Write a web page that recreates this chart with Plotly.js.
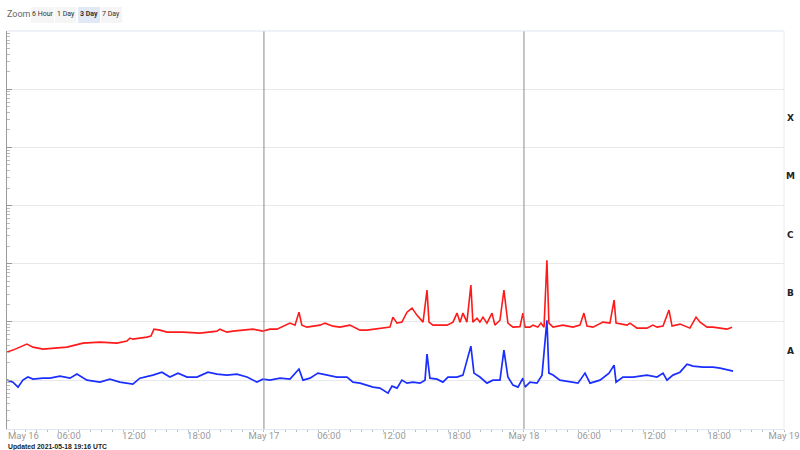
<!DOCTYPE html>
<html><head><meta charset="utf-8">
<script src="https://cdn.plot.ly/plotly-3.0.1.min.js"></script>
<style>html,body{margin:0;padding:0;background:#fff}#chart{width:800px;height:450px}</style>
</head><body><div id="chart"></div>
<script>
// minutes since 2021-05-16 00:00 UTC
const redMinutes = [17,50,127,161,216,349,438,532,626,681,698,714,792,814,831,864,903,991,1086,1180,1196,1235,1268,1379,1434,1473,1512,1584,1612,1634,1650,1678,1750,1778,1822,1861,1916,1972,2010,2082,2138,2154,2177,2204,2232,2260,2287,2321,2343,2354,2376,2415,2454,2487,2509,2526,2542,2564,2586,2597,2620,2636,2653,2675,2703,2719,2747,2769,2791,2819,2858,2874,2886,2913,2930,2957,2974,2991,3007,3018,3041,3096,3151,3190,3212,3229,3262,3318,3356,3379,3390,3451,3467,3506,3561,3594,3617,3650,3683,3700,3744,3799,3833,3855,3894,3927,3966,4004,4032];
const redFlux = [3.03e-8,3.28e-8,4.16e-8,3.69e-8,3.41e-8,3.69e-8,4.32e-8,4.50e-8,4.32e-8,4.68e-8,5.27e-8,5.06e-8,5.48e-8,5.70e-8,7.52e-8,7.23e-8,6.68e-8,6.68e-8,6.42e-8,6.95e-8,7.52e-8,6.68e-8,6.95e-8,7.52e-8,6.95e-8,7.52e-8,7.52e-8,9.54e-8,8.81e-8,1.47e-7,8.81e-8,8.14e-8,8.81e-8,9.54e-8,8.47e-8,8.14e-8,8.81e-8,7.23e-8,7.23e-8,7.83e-8,8.14e-8,1.21e-7,9.54e-8,9.92e-8,1.47e-7,1.73e-7,1.31e-7,9.92e-8,3.52e-7,9.92e-8,8.81e-8,8.81e-8,8.81e-8,9.92e-8,1.42e-7,9.92e-8,1.42e-7,9.92e-8,4.29e-7,9.92e-8,1.16e-7,9.92e-8,1.21e-7,9.54e-8,1.42e-7,8.81e-8,1.07e-7,3.52e-7,9.54e-8,8.14e-8,8.30e-8,1.42e-7,8.14e-8,8.14e-8,8.81e-8,8.14e-8,9.54e-8,8.14e-8,1.15e-6,9.54e-8,8.14e-8,8.81e-8,8.14e-8,8.81e-8,1.42e-7,8.47e-8,8.14e-8,9.92e-8,9.54e-8,2.37e-7,9.54e-8,8.81e-8,9.54e-8,7.83e-8,7.83e-8,8.81e-8,8.14e-8,8.47e-8,1.60e-7,8.47e-8,9.17e-8,7.83e-8,1.21e-7,9.92e-8,8.14e-8,8.14e-8,7.83e-8,7.52e-8,8.14e-8];

const blueMinutes = [17,50,78,105,133,161,216,255,310,366,404,460,532,587,642,714,753,825,875,919,964,1014,1069,1130,1180,1235,1290,1346,1401,1434,1473,1529,1584,1634,1656,1695,1739,1789,1844,1900,1933,1972,2010,2044,2082,2127,2149,2177,2204,2232,2265,2304,2332,2343,2359,2398,2431,2459,2509,2542,2586,2603,2636,2675,2708,2747,2769,2791,2819,2847,2874,2886,2913,2952,2980,3007,3018,3041,3079,3135,3179,3218,3246,3301,3351,3379,3390,3428,3484,3561,3617,3650,3672,3705,3744,3783,3816,3871,3927,3966,4010,4038];
const blueFlux = [1.0e-8,9.24e-9,7.58e-9,1.0e-8,1.13e-8,1.04e-8,1.08e-8,1.08e-8,1.17e-8,1.08e-8,1.27e-8,1.0e-8,9.24e-9,1.04e-8,9.24e-9,8.54e-9,1.08e-8,1.22e-8,1.37e-8,1.13e-8,1.32e-8,1.13e-8,1.13e-8,1.37e-8,1.27e-8,1.22e-8,1.27e-8,1.13e-8,9.24e-9,1.04e-8,1.0e-8,1.08e-8,1.04e-8,1.55e-8,1.0e-8,1.08e-8,1.32e-8,1.22e-8,1.13e-8,1.13e-8,9.24e-9,8.88e-9,8.20e-9,7.58e-9,7.29e-9,5.98e-9,7.89e-9,7.29e-9,1.0e-8,8.88e-9,9.24e-9,8.88e-9,1.0e-8,2.80e-8,1.08e-8,1.04e-8,9.24e-9,1.13e-8,1.13e-8,1.22e-8,3.84e-8,1.32e-8,1.13e-8,8.88e-9,1.0e-8,1.0e-8,3.28e-8,1.13e-8,8.20e-9,7.58e-9,1.08e-8,7.58e-9,9.24e-9,8.88e-9,1.22e-8,1.07e-7,1.32e-8,1.22e-8,1.0e-8,9.24e-9,8.88e-9,1.32e-8,8.88e-9,1.0e-8,1.32e-8,1.81e-8,9.24e-9,1.13e-8,1.13e-8,1.22e-8,1.13e-8,1.32e-8,1.0e-8,1.22e-8,1.37e-8,1.88e-8,1.74e-8,1.67e-8,1.67e-8,1.61e-8,1.48e-8,1.43e-8];

const tickTimes = ["2021-05-16 06:00","2021-05-16 12:00","2021-05-16 18:00","2021-05-17 00:00","2021-05-17 06:00","2021-05-17 12:00","2021-05-17 18:00","2021-05-18 00:00","2021-05-18 06:00","2021-05-18 12:00","2021-05-18 18:00","2021-05-19 00:00"];
const tickLabels = ["06:00","12:00","18:00","May 17","06:00","12:00","18:00","May 18","06:00","12:00","18:00","May 19"];
const dayLines = ["2021-05-17 00:00","2021-05-18 00:00"];
const classLabels = ["A","B","C","M","X"];
const classMidLog = [-7.5,-6.5,-5.5,-4.5,-3.5];
const zoomButtons = ["6 Hour","1 Day","3 Day","7 Day"];

const t0 = Date.UTC(2021,4,16,0,0);
function toTime(m){ return new Date(t0 + m*60000).toISOString().replace('T',' ').slice(0,19); }

const L = 7, R = 16, T = 31, B = 21, W = 800, H = 450;
const pw = W-L-R, ph = H-T-B;
const px = x => (x-L)/pw;
const py = y => (H-B-y)/ph;

const traces = [
  {x: redMinutes.map(toTime), y: redFlux, type:'scatter', mode:'lines', line:{color:'#ff1a1a', width:1.6}, hoverinfo:'skip'},
  {x: blueMinutes.map(toTime), y: blueFlux, type:'scatter', mode:'lines', line:{color:'#1a2eff', width:1.7}, hoverinfo:'skip'}
];

const shapes = dayLines.map(d => ({type:'line', xref:'x', yref:'paper', x0:d, x1:d, y0:0, y1:1, line:{color:'#8a8a8a', width:1}}));
shapes.push({type:'line', xref:'paper', yref:'paper', x0:0, x1:1, y0:1, y1:1, line:{color:'#dfe7f2', width:1}});
shapes.push({type:'line', xref:'paper', yref:'paper', x0:1, x1:1, y0:0, y1:1, line:{color:'#e6ebf2', width:1}});
const btnX = [[31,54],[55,76],[78,100],[101,122]];
zoomButtons.forEach((b,i) => {
  shapes.push({type:'rect', xref:'paper', yref:'paper', x0:px(btnX[i][0]), x1:px(btnX[i][1]), y0:py(23), y1:py(7), line:{width:0}, fillcolor: i===2 ? '#e2e9f6' : '#f5f5f5', layer:'below'});
});

const annotations = [];
annotations.push({xref:'paper', yref:'paper', x:px(5), y:py(14), xanchor:'left', yanchor:'middle', text:'Zoom', showarrow:false, font:{family:'Roboto, Arial', size:9, color:'#666'}});
zoomButtons.forEach((b,i) => {
  annotations.push({xref:'paper', yref:'paper', x:px((btnX[i][0]+btnX[i][1])/2), y:py(14), xanchor:'center', yanchor:'middle', text: i===2 ? '<b>'+b+'</b>' : b, showarrow:false, font:{family:'Roboto, Arial', size:7, color:'#333'}});
});
classLabels.forEach((c,i) => {
  annotations.push({xref:'paper', yref:'y', x:px(791), y:classMidLog[i], xanchor:'center', yanchor:'middle', text:'<b>'+c+'</b>', showarrow:false, font:{family:'DejaVu Sans, Arial', size:9, color:'#222'}});
});
annotations.push({xref:'paper', yref:'paper', x:px(6), y:py(436), xanchor:'left', yanchor:'middle', text:'May 16', showarrow:false, font:{family:'Roboto, Arial', size:9.5, color:'#999'}});
annotations.push({xref:'paper', yref:'paper', x:px(6), y:py(446.5), xanchor:'left', yanchor:'middle', text:'<b>Updated 2021-05-18 19:16 UTC</b>', showarrow:false, font:{family:'Arial', size:6.8, color:'#222'}});

const layout = {
  width:W, height:H, margin:{l:L, r:R, t:T, b:B},
  paper_bgcolor:'#fff', plot_bgcolor:'#fff', showlegend:false,
  font:{family:'Roboto, Arial', size:10, color:'#999'},
  xaxis:{type:'date', range:[toTime(17),'2021-05-19 00:00'], tickmode:'array', tickvals:tickTimes, ticktext:tickLabels,
    showgrid:false, zeroline:false, showline:true, linecolor:'#dfe7f2', linewidth:1, ticks:'', tickfont:{size:9.5, color:'#999'},
    ticklabelstandoff:-2,
    minor:{ticks:'outside', ticklen:2, tickcolor:'#bbb', dtick:3600000, showgrid:false}},
  yaxis:{type:'log', range:[-8.84,-2], dtick:1, showticklabels:false, showgrid:true, gridcolor:'#e8e8e8', gridwidth:1,
    zeroline:false, showline:true, linecolor:'#9a9a9a', linewidth:1, ticks:'inside', ticklen:5, tickcolor:'#9a9a9a',
    minor:{ticks:'inside', ticklen:3, tickcolor:'#bbb', dtick:'D1', showgrid:false}},
  shapes:shapes, annotations:annotations
};
Plotly.newPlot('chart', traces, layout, {staticPlot:true, displayModeBar:false});
</script></body></html>
